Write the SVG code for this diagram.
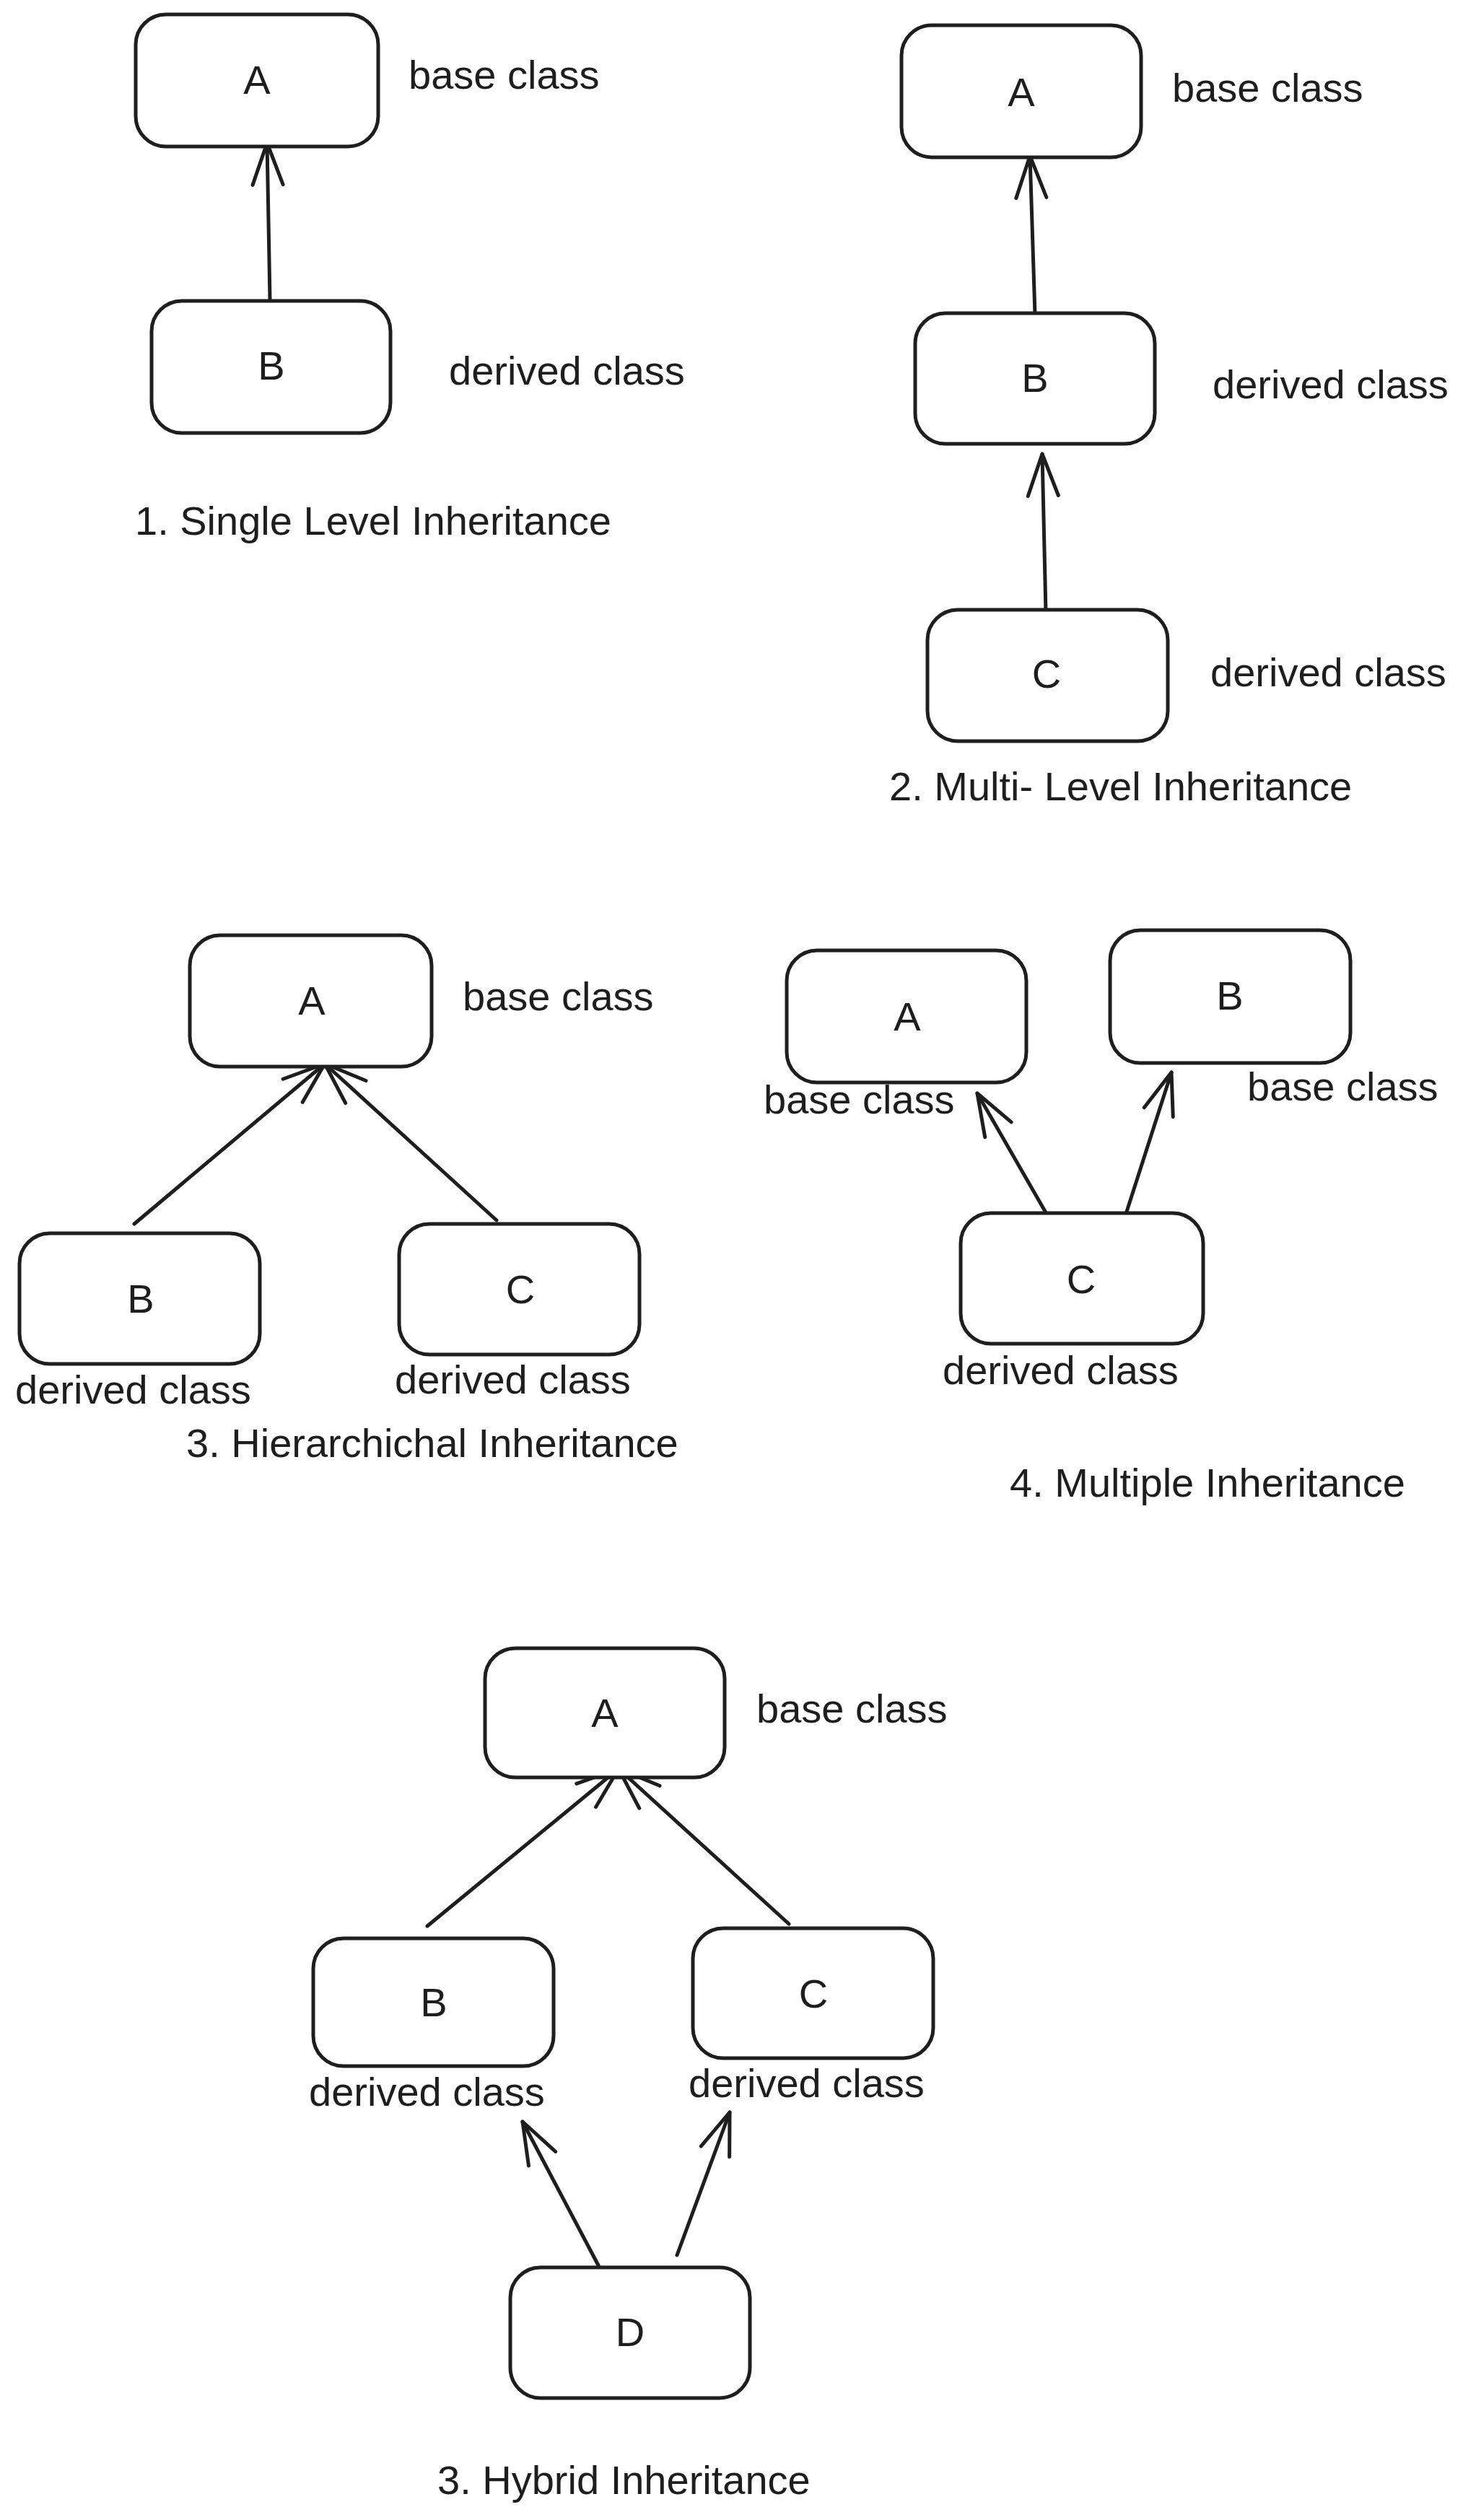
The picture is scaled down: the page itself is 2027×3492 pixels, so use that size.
<svg xmlns="http://www.w3.org/2000/svg" width="2027" height="3492" viewBox="0 0 2027 3492">
<defs>
<style>
.box{fill:#ffffff;stroke:#1e1e1e;stroke-width:5}
.t{font-family:"Liberation Sans",Arial,Helvetica,sans-serif;font-size:56px;fill:#1e1e1e}
.c{text-anchor:middle}
.ln{fill:none;stroke:#1e1e1e;stroke-width:5;stroke-linecap:round}
</style>
<marker id="arr" markerUnits="userSpaceOnUse" markerWidth="80" markerHeight="60" viewBox="-70 -30 80 60" refX="0" refY="0" orient="auto" overflow="visible">
<path d="M-58,-21 L0,0 L-58,21" fill="none" stroke="#1e1e1e" stroke-width="5" stroke-linecap="round" stroke-linejoin="round"/>
</marker>
</defs>
<rect width="2027" height="3492" fill="#ffffff"/>

<g id="connectors">
<path class="ln" d="M374,415 L370,198" marker-end="url(#arr)"/>
<path class="ln" d="M1434,436 L1427,216" marker-end="url(#arr)"/>
<path class="ln" d="M1449,849 L1444,629" marker-end="url(#arr)"/>
<path class="ln" d="M186,1696 L450,1474" marker-end="url(#arr)"/>
<path class="ln" d="M688,1691 L450,1474" marker-end="url(#arr)"/>
<path class="ln" d="M1450,1682 L1354,1515" marker-end="url(#arr)"/>
<path class="ln" d="M1561,1679 L1623,1486" marker-end="url(#arr)"/>
<path class="ln" d="M592,2669 L857,2451" marker-end="url(#arr)"/>
<path class="ln" d="M1093,2666 L857,2451" marker-end="url(#arr)"/>
<path class="ln" d="M830,3141 L724,2940" marker-end="url(#arr)"/>
<path class="ln" d="M938,3125 L1011,2927" marker-end="url(#arr)"/>
</g>

<!-- Panel 1 -->
<g id="p1-A"><rect class="box" x="188" y="20" width="336" height="183" rx="42"/><text class="t c" x="356" y="130">A</text></g>
<g id="p1-B"><rect class="box" x="210" y="417" width="331" height="183" rx="42"/><text class="t c" x="376" y="526">B</text></g>
<text class="t" x="566" y="123">base class</text>
<text class="t" x="622" y="533">derived class</text>
<text class="t" x="187" y="741">1. Single Level Inheritance</text>

<!-- Panel 2 -->
<g id="p2-A"><rect class="box" x="1249" y="35" width="332" height="183" rx="42"/><text class="t c" x="1415" y="147">A</text></g>
<g id="p2-B"><rect class="box" x="1268" y="434" width="332" height="181" rx="42"/><text class="t c" x="1434" y="543">B</text></g>
<g id="p2-C"><rect class="box" x="1285" y="845" width="333" height="182" rx="42"/><text class="t c" x="1450" y="953">C</text></g>
<text class="t" x="1624" y="141">base class</text>
<text class="t" x="1680" y="552">derived class</text>
<text class="t" x="1677" y="951">derived class</text>
<text class="t" x="1232" y="1109">2. Multi- Level Inheritance</text>

<!-- Panel 3 -->
<g id="p3-A"><rect class="box" x="263" y="1296" width="335" height="182" rx="42"/><text class="t c" x="432" y="1406">A</text></g>
<g id="p3-B"><rect class="box" x="27" y="1709" width="333" height="181" rx="42"/><text class="t c" x="195" y="1819">B</text></g>
<g id="p3-C"><rect class="box" x="553" y="1696" width="333" height="181" rx="42"/><text class="t c" x="721" y="1806">C</text></g>
<text class="t" x="641" y="1400">base class</text>
<text class="t" x="21" y="1945">derived class</text>
<text class="t" x="547" y="1931">derived class</text>
<text class="t" x="258" y="2019">3. Hierarchichal Inheritance</text>

<!-- Panel 4 -->
<g id="p4-A"><rect class="box" x="1090" y="1317" width="332" height="183" rx="42"/><text class="t c" x="1257" y="1428">A</text></g>
<g id="p4-B"><rect class="box" x="1538" y="1289" width="333" height="184" rx="42"/><text class="t c" x="1704" y="1399">B</text></g>
<g id="p4-C"><rect class="box" x="1331" y="1681" width="336" height="181" rx="42"/><text class="t c" x="1498" y="1792">C</text></g>
<text class="t" x="1058" y="1543">base class</text>
<text class="t" x="1728" y="1525">base class</text>
<text class="t" x="1306" y="1918">derived class</text>
<text class="t" x="1399" y="2074">4. Multiple Inheritance</text>

<!-- Panel 5 -->
<g id="p5-A"><rect class="box" x="672" y="2284" width="332" height="179" rx="42"/><text class="t c" x="838" y="2393">A</text></g>
<g id="p5-B"><rect class="box" x="434" y="2686" width="333" height="177" rx="42"/><text class="t c" x="601" y="2794">B</text></g>
<g id="p5-C"><rect class="box" x="960" y="2672" width="333" height="180" rx="42"/><text class="t c" x="1127" y="2782">C</text></g>
<g id="p5-D"><rect class="box" x="707" y="3142" width="332" height="181" rx="42"/><text class="t c" x="873" y="3251">D</text></g>
<text class="t" x="1048" y="2387">base class</text>
<text class="t" x="428" y="2918">derived class</text>
<text class="t" x="954" y="2906">derived class</text>
<text class="t" x="606" y="3456">3. Hybrid Inheritance</text>
</svg>
